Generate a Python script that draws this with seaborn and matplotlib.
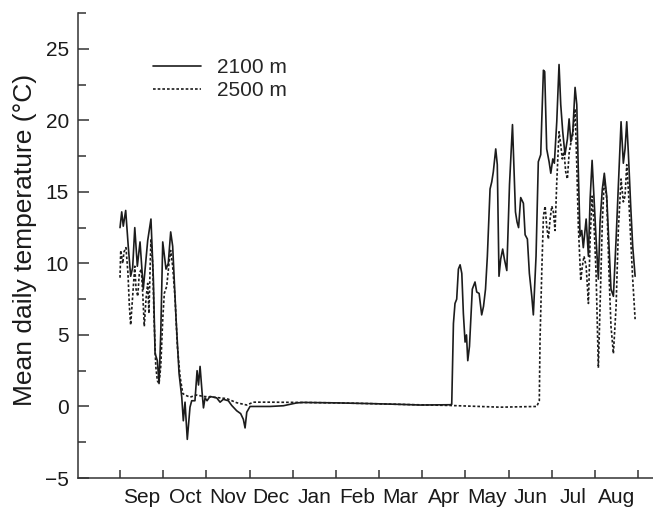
import pandas as pd
import seaborn as sns
import matplotlib.pyplot as plt
from matplotlib.ticker import MultipleLocator

# Days since 1 September and mean daily temperature (°C) at each station
day_2100 = [0.0, 1.2, 2.3, 4.0, 5.8, 7.5, 8.9, 10.4, 12.2, 14.1, 16.4, 19.5, 21.8,
            23.5, 24.7, 26.3, 27.5, 28.7, 30.1, 32.4, 34.0, 35.7, 37.1, 39.5, 41.6,
            43.5, 44.6, 45.8, 47.4, 49.3, 50.5, 52.8, 54.3, 55.3, 56.4, 57.8, 58.8,
            59.9, 61.3, 63.4, 68.1, 70.5, 72.8, 76.3, 78.7, 82.2, 85.0, 86.9, 88.1,
            89.3, 91.6, 105.7, 115.1, 124.5, 129.2, 152.7, 176.2, 199.6, 211.4,
            232.5, 233.7, 234.9, 236.0, 237.2, 238.4, 239.6, 240.8, 241.9, 243.1,
            244.1, 245.0, 246.2, 248.2, 250.1, 251.3, 253.0, 254.8, 256.1, 257.5,
            258.8, 260.7, 261.9, 263.0, 264.7, 265.8, 267.0, 268.2, 269.6, 270.8,
            272.5, 274.4, 276.5, 277.6, 278.6, 279.7, 280.8, 282.3, 284.2, 285.4,
            287.0, 288.4, 290.1, 291.2, 293.1, 294.7, 296.4, 297.1, 298.3, 299.2,
            300.6, 302.3, 303.5, 304.9, 306.0, 307.7, 309.3, 310.5, 311.9, 313.5,
            315.2, 316.4, 317.6, 319.0, 320.6, 321.8, 322.9, 324.1, 325.3, 326.4,
            328.4, 330.0, 331.2, 332.6, 334.0, 335.4, 337.0, 338.2, 339.8, 341.2,
            342.9, 344.5, 345.9, 347.6, 349.5, 351.1, 353.0, 354.6, 355.8, 357.0,
            358.1, 359.8, 361.2, 362.9]
temp_2100 = [12.5, 13.6, 12.6, 13.7, 11.2, 9.1, 9.7, 12.5, 9.8, 11.5, 8.2, 11.6, 13.1,
             8.9, 3.7, 3.2, 1.6, 5.1, 11.5, 9.6, 10.0, 12.2, 11.2, 6.1, 2.3,
             0.65, -1.0, 0.3, -2.3, -0.05, 0.4, 0.4, 2.5, 1.5, 2.8, 1.0, -0.1,
             0.6, 0.4, 0.7, 0.6, 0.3, 0.5, 0.4, 0.07, -0.3, -0.5, -0.9, -1.5,
             -0.4, 0.0, 0.0, 0.05, 0.25, 0.28, 0.25, 0.2, 0.14, 0.1,
             0.12, 0.15, 5.8, 7.2, 7.5, 9.6, 9.9, 9.3, 6.5, 4.5,
             5.0, 3.2, 4.2, 8.2, 8.7, 8.0, 7.9, 6.4, 7.0, 8.2,
             10.5, 15.2, 15.7, 16.4, 18.0, 16.9, 9.1, 10.3, 11.0, 10.3,
             9.5, 15.5, 19.7, 16.4, 13.6, 12.9, 12.5, 14.6, 14.2, 12.0,
             11.7, 9.3, 7.7, 6.4, 10.5, 17.1, 17.6, 19.9, 23.5, 23.4,
             18.0, 17.1, 16.3, 17.3, 17.0, 19.9, 23.9, 21.1, 19.2, 17.6,
             18.7, 20.1, 18.5, 19.2, 22.3, 21.1, 16.4, 11.9, 12.3, 11.1,
             13.1, 10.5, 14.5, 17.2, 14.5, 11.7, 8.9, 12.9, 15.2, 16.3,
             14.7, 11.2, 8.2, 7.7, 11.7, 15.4, 19.9, 17.0, 18.0, 19.9,
             17.8, 14.0, 11.2, 9.1]

day_2500 = [0.0, 0.5, 1.9, 2.8, 4.2, 5.6, 6.6, 7.5, 8.9, 10.4, 11.3, 12.5, 13.6,
            15.0, 16.0, 17.1, 18.3, 19.5, 20.4, 21.1, 21.8, 23.0, 24.0, 25.2, 26.3,
            27.5, 28.7, 30.1, 31.2, 32.9, 34.5, 35.7, 37.1, 38.8, 40.4, 42.3, 44.2,
            45.8, 49.3, 54.0, 58.7, 65.7, 75.2, 82.2, 89.3, 93.9, 105.7, 128.9,
            152.7, 176.2, 199.6, 232.5, 267.8, 293.6, 295.4, 295.9, 297.1, 298.3,
            299.5, 300.6, 301.8, 303.0, 304.2, 305.3, 306.5, 307.7, 309.3, 310.5,
            311.6, 312.8, 314.0, 315.2, 316.4, 317.8, 319.0, 320.6, 321.8, 322.9,
            324.6, 325.7, 326.9, 328.4, 330.0, 331.2, 332.6, 334.0, 335.4, 337.0,
            338.2, 339.8, 341.2, 342.9, 344.5, 345.9, 347.6, 349.5, 351.1, 353.0,
            354.6, 355.8, 357.0, 358.1, 359.8, 361.2, 362.9]
temp_2500 = [9.0, 10.9, 10.0, 10.8, 11.1, 9.3, 7.0, 5.7, 7.7, 9.8, 8.2, 7.7, 9.3,
             9.6, 7.9, 5.6, 7.5, 8.6, 6.5, 9.3, 11.7, 10.0, 6.1, 2.8, 1.8,
             1.6, 2.8, 6.1, 7.9, 8.4, 10.0, 10.9, 9.8, 7.5, 4.2, 2.1, 0.9,
             0.8, 0.65, 0.8, 0.7, 0.65, 0.55, 0.26, 0.1, 0.3, 0.3, 0.28,
             0.25, 0.2, 0.14, 0.07, -0.05, 0.0, 0.4, 4.6, 9.3, 13.3,
             14.0, 12.6, 11.7, 13.1, 14.0, 13.6, 12.3, 15.7, 19.2, 18.3,
             17.3, 17.8, 16.4, 15.9, 17.7, 18.5, 19.0, 20.8, 16.9, 12.6,
             8.8, 9.8, 10.5, 9.8, 7.2, 11.7, 14.7, 12.6, 9.3, 2.7,
             7.0, 12.9, 15.9, 14.5, 9.3, 5.6, 3.7, 7.0, 12.4, 15.9,
             14.3, 14.7, 16.9, 15.2, 11.7, 8.9, 6.1]

series_names = ["2100 m", "2500 m"]
months = ["Sep", "Oct", "Nov", "Dec", "Jan", "Feb",
          "Mar", "Apr", "May", "Jun", "Jul", "Aug"]

sns.set_style("ticks")
plt.rcParams["font.family"] = ["Liberation Sans", "DejaVu Sans"]
plt.rcParams["axes.unicode_minus"] = True

df = pd.concat([
    pd.DataFrame({"day": day_2100, "temp": temp_2100, "site": series_names[0]}),
    pd.DataFrame({"day": day_2500, "temp": temp_2500, "site": series_names[1]}),
], ignore_index=True)

fig = plt.figure(figsize=(6.53, 5.09), dpi=100)
ax = fig.add_axes([78 / 653, 31 / 509, 575 / 653, 465 / 509])

ink = "#1c1c1c"
sns.lineplot(data=df, x="day", y="temp", style="site",
             dashes={series_names[0]: "", series_names[1]: (1.6, 1.2)},
             color=ink, linewidth=1.2, estimator=None, ax=ax)

# Axis limits and ticks
ax.set_xlim(-29.6, 375.5)
ax.set_ylim(-5, 27.5)

month_len = 365 / 12
ax.set_xticks([i * month_len for i in range(13)])
ax.set_xticklabels([])
ax.set_xticks([(i + 0.5) * month_len for i in range(12)], minor=True)
ax.set_xticklabels(months, minor=True)
ax.tick_params(axis="x", which="major", direction="in", length=6,
               width=1.1, color="#333333")
ax.tick_params(axis="x", which="minor", length=0, pad=7,
               labelsize=15, labelcolor="#1a1a1a")

ax.yaxis.set_major_locator(MultipleLocator(5))
ax.yaxis.set_minor_locator(MultipleLocator(2.5))
ax.tick_params(axis="y", which="major", direction="in", length=8,
               width=1.1, color="#333333", pad=6.5,
               labelsize=15, labelcolor="#1a1a1a")
ax.tick_params(axis="y", which="minor", direction="in", length=6,
               width=1.1, color="#333333")

ax.set_xlabel("")
ax.set_ylabel("Mean daily temperature (°C)", fontsize=19, color="#1a1a1a")
ax.yaxis.set_label_coords(-0.072, 0.512)

for side in ("top", "right"):
    ax.spines[side].set_visible(False)
for side in ("left", "bottom"):
    ax.spines[side].set_linewidth(1.1)
    ax.spines[side].set_color("#333333")

handles, labels = ax.get_legend_handles_labels()
ax.legend(handles, labels, loc="upper left", bbox_to_anchor=(0.130, 0.903),
          frameon=False, fontsize=15, handlelength=2.3, handletextpad=0.8,
          labelspacing=0.2, borderpad=0, borderaxespad=0)

fig.savefig("out.png", dpi=100)
